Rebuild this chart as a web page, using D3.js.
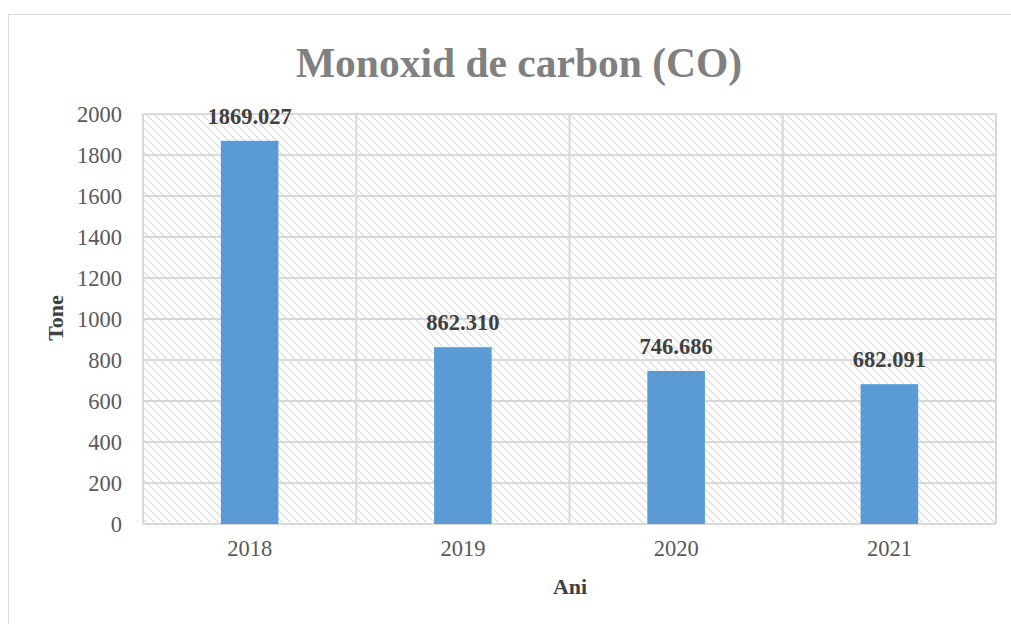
<!DOCTYPE html>
<html>
<head>
<meta charset="utf-8">
<script src="https://cdn.jsdelivr.net/npm/d3@7"></script>
<style>
  body { margin: 0; background: #fff; }
  svg { display: block; font-family: "Liberation Serif", "Times New Roman", serif; }
</style>
</head>
<body>
<div class="chart"></div>
<script>
var years = ["2018", "2019", "2020", "2021"];
var values = [1869.027, 862.310, 746.686, 682.091];
var labels = ["1869.027", "862.310", "746.686", "682.091"];
var yTicks = [0, 200, 400, 600, 800, 1000, 1200, 1400, 1600, 1800, 2000];

var width = 1011, height = 624;
var plot = {left: 143, right: 996, top: 114, bottom: 524};

var svg = d3.select(".chart").append("svg")
    .attr("width", width)
    .attr("height", height);

// hatch for plot background
var pat = svg.append("defs").append("pattern")
    .attr("id", "hatch")
    .attr("patternUnits", "userSpaceOnUse")
    .attr("width", 8).attr("height", 8);
pat.append("path")
    .attr("d", "M-2,-2 L10,10 M-2,6 L2,10 M6,-2 L10,2")
    .attr("stroke", "#dadada")
    .attr("stroke-width", 1.1);

// outer chart border
svg.append("rect")
    .attr("x", 8.5).attr("y", 14.5)
    .attr("width", 1020).attr("height", 640)
    .attr("fill", "none")
    .attr("stroke", "#d9d9d9")
    .attr("stroke-width", 1);

var x = d3.scaleBand()
    .domain(years)
    .range([plot.left, plot.right])
    .paddingInner(0)
    .paddingOuter(0);

var y = d3.scaleLinear()
    .domain([0, 2000])
    .range([plot.bottom, plot.top]);

svg.append("rect")
    .attr("x", plot.left).attr("y", plot.top)
    .attr("width", plot.right - plot.left)
    .attr("height", plot.bottom - plot.top)
    .attr("fill", "url(#hatch)");

// gridlines
svg.append("g")
    .selectAll("line.h")
    .data(yTicks)
    .enter().append("line")
    .attr("x1", plot.left).attr("x2", plot.right)
    .attr("y1", function (d) { return y(d); })
    .attr("y2", function (d) { return y(d); })
    .attr("stroke", "#d9d9d9")
    .attr("stroke-width", 2);

var bounds = years.map(function (d) { return x(d); }).concat([plot.right]);
svg.append("g")
    .selectAll("line")
    .data(bounds)
    .enter().append("line")
    .attr("x1", function (d) { return d; })
    .attr("x2", function (d) { return d; })
    .attr("y1", plot.top).attr("y2", plot.bottom)
    .attr("stroke", "#d9d9d9")
    .attr("stroke-width", 2);

// bars
var barW = x.bandwidth() * 0.27;
svg.append("g")
    .selectAll("rect")
    .data(values)
    .enter().append("rect")
    .attr("x", function (d, i) { return x(years[i]) + x.bandwidth() / 2 - barW / 2; })
    .attr("y", function (d) { return y(d); })
    .attr("width", barW)
    .attr("height", function (d) { return y(0) - y(d); })
    .attr("fill", "#5b9bd5");

// data labels
svg.append("g")
    .selectAll("text")
    .data(values)
    .enter().append("text")
    .attr("x", function (d, i) { return x(years[i]) + x.bandwidth() / 2; })
    .attr("y", function (d) { return y(d) - 17; })
    .attr("text-anchor", "middle")
    .attr("font-size", 22.5)
    .attr("font-weight", "bold")
    .attr("fill", "#404040")
    .text(function (d, i) { return labels[i]; });

// y axis
var yAxis = svg.append("g")
    .attr("transform", "translate(" + plot.left + ",0)")
    .call(d3.axisLeft(y).tickValues(yTicks).tickSize(0).tickPadding(21).tickFormat(d3.format("d")));
yAxis.select(".domain").remove();
yAxis.selectAll("text")
    .attr("font-family", "Liberation Serif, serif")
    .attr("font-size", 22.5)
    .attr("fill", "#595959");

// x axis
var xAxis = svg.append("g")
    .attr("transform", "translate(0," + plot.bottom + ")")
    .call(d3.axisBottom(x).tickSize(0).tickPadding(16));
xAxis.select(".domain").remove();
xAxis.selectAll("text")
    .attr("font-family", "Liberation Serif, serif")
    .attr("font-size", 22.5)
    .attr("fill", "#595959");

// titles
svg.append("text")
    .attr("x", 519).attr("y", 77)
    .attr("text-anchor", "middle")
    .attr("font-size", 41.5)
    .attr("font-weight", "bold")
    .attr("fill", "#808080")
    .text("Monoxid de carbon (CO)");

svg.append("text")
    .attr("transform", "translate(63,318) rotate(-90)")
    .attr("text-anchor", "middle")
    .attr("font-size", 22)
    .attr("font-weight", "bold")
    .attr("fill", "#404040")
    .text("Tone");

svg.append("text")
    .attr("x", 570).attr("y", 594)
    .attr("text-anchor", "middle")
    .attr("font-size", 22)
    .attr("font-weight", "bold")
    .attr("fill", "#404040")
    .text("Ani");
</script>
</body>
</html>
